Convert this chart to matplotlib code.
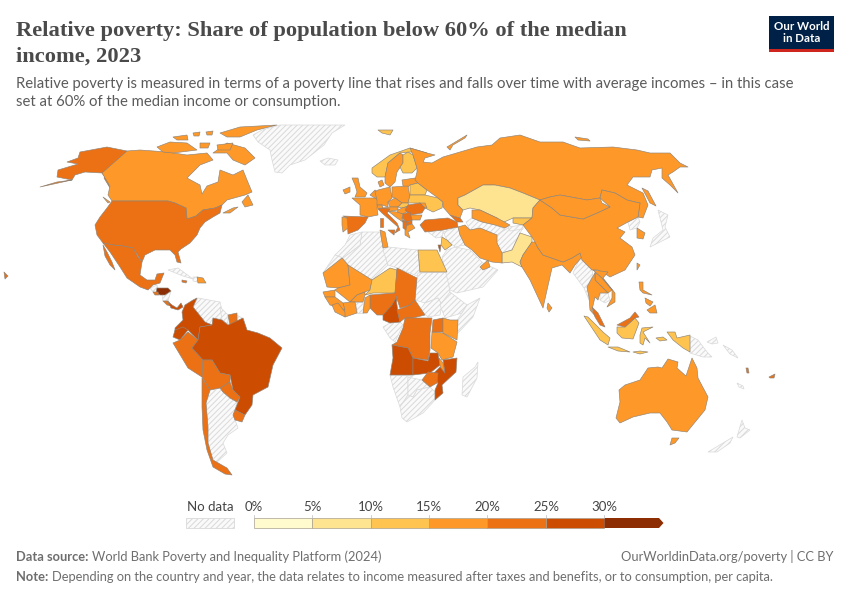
import matplotlib
matplotlib.use("Agg")
import matplotlib.pyplot as plt
from matplotlib.patches import Polygon, Rectangle
from matplotlib.colors import BoundaryNorm, ListedColormap
import numpy as np

plt.rcParams['font.family'] = ['Lato', 'DejaVu Sans']
plt.rcParams['hatch.linewidth'] = 0.7

TITLE = ["Relative poverty: Share of population below 60% of the median", "income, 2023"]
SUBTITLE = ["Relative poverty is measured in terms of a poverty line that rises and falls over time with average incomes – in this case",
            "set at 60% of the median income or consumption."]
BIN_EDGES = [0, 5, 10, 15, 20, 25, 30, 35]
BIN_LABELS = ["0%", "5%", "10%", "15%", "20%", "25%", "30%"]
BIN_COLORS = ["#fffbcf", "#fee391", "#fec44f", "#fe9929", "#ec7014", "#cc4c02", "#8c2d04"]

# Share of population (%) per territory, read from the colour bins; nan = no data
VALUES = {
 "Alaska":22,"Canada":17,"Baffin":17,"Victoria":17,"Ellesmere":17,"Banks":17,"Somerset":17,"Devon":17,"Axel":17,"Prince":17,"Newfoundland":17,
 "NovaScotia":17,"Vancouver":17,"USA":22,"Hawaii":22,"Mexico":22,"Baja":22,"Honduras":32,"ElSalvador":22,"CostaRica":22,"Panama":27,
 "DominicanRep":17,"Jamaica":22,"Colombia":27,"Suriname":22,"Ecuador":27,"Peru":22,"Brazil":27,"Bolivia":22,"Paraguay":22,
 "Uruguay":22,"Chile":22,"UK":17,"Ireland":17,"Norway":12,"Sweden":17,"Finland":12,"Denmark":17,"Baltics":17,"Benelux":17,"France":17,
 "Germany":17,"Switzerland":17,"Poland":17,"Belarus":12,"Ukraine":12,"Moldova":17,"Czechia":17,"Slovakia":12,"Austria":17,"Hungary":17,"Italy":22,"Sicily":22,"Sardinia":22,
 "Spain":22,"Portugal":17,"Romania":22,"Bulgaria":17,"Serbia":22,"Croatia":17,"WestBalkans":22,"Greece":17,"Albania":22,"Turkey":22,"Caucasus":22,"Russia":17,
 "NovayaZemlya":17,"Svalbard":12,"Severnaya":17,"Sakhalin":17,"Kazakhstan":8,"Uzbekistan":17,"Kyrgyzstan":12,"Pakistan":8,"Iran":17,
 "Israel":25.5,"Jordan":12,"Egypt":12,"Tunisia":17,"Mauritania":17,"Mali":17,"Niger":12,"Chad":22,"Nigeria":22,"Cameroon":27,"CAR":22,
 "BeninTogo":17,"Burkina":17,"CotedIvoire":17,"Senegal":17,"Guinea":17,"Liberia":17,"DRC":22,"Angola":27,"Zambia":27,"Tanzania":17,
 "Uganda":22,"Kenya":17,"Malawi":17,"Mozambique":27,"Zimbabwe":22,"UAE":17,"India":17,"SriLanka":17,"China":17,"Mongolia":17,
 "SouthKorea":17,"Taiwan":17,"Laos":17,"Vietnam":17,"Thailand":17,"MalayPen":22,"Sumatra":12,"Java":12,"Kalimantan":12,"Sabah":22,"Sulawesi":12,
 "Luzon":17,"Mindanao":17,"Visayas":17,"Papua":12,"Timor":12,"Moluccas":12,"Vanuatu":22,"Fiji":22,"Australia":17,"Tasmania":17,
}
NO_DATA = ["Greenland","Iceland","Guatemala","Nicaragua","Cuba","Haiti","Venezuela","Guyana","FrGuiana","Argentina","Algeria","Morocco",
 "WSahara","Libya","Sudan","SouthSudan","Ethiopia","Somalia","Ghana","Gabon","Namibia","Botswana","SouthAfrica","Madagascar","Saudi",
 "Iraq","Syria","Turkmenistan","Afghanistan","Tajikistan","NorthKorea","Japan","Myanmar","Cambodia","PNG","NewBritain","Solomon","NewCaledonia","NZSouth","NZNorth"]

# Territory outlines (map units: x right, y down)
OUTLINES = {
 "Greenland":[(253,135),(262,130),(280,125),(345,125),(332,133),(324,145),(305,160),(290,165),(282,173),(275,172),(272,160),(270,150),(258,142)],
 "Iceland":[(320,161),(328,158),(338,160),(335,165),(325,165)],
 "Alaska":[(127,151),(107,147),(80,152),(78,158),(67,162),(78,164),(58,170),(57,177),(72,180),(40,187),(57,182),(72,180),(75,175),(85,172),(102,173),(107,180),(110,188),(104,178)],
 "Canada":[(127,151),(102,173),(110,186),(108,195),(112,201),(168,201),(175,203),(186,208),(187,219),(196,216),(203,210),(215,208),(222,205),(227,200),(245,195),(252,192),(247,180),(243,170),(233,175),(220,170),(218,182),(207,186),(202,194),(200,185),(187,178),(200,165),(213,160),(207,153),(187,155),(167,152),(140,150)],
 "Baffin":[(213,153),(227,143),(245,148),(255,158),(245,165),(233,160),(227,153)],
 "Victoria":[(157,147),(170,142),(187,143),(197,150),(173,153),(163,152)],
 "Ellesmere":[(220,133),(240,127),(277,125),(257,130),(240,137),(227,137)],
 "Banks":[(173,137),(187,135),(188,140),(177,140)],
 "Somerset":[(200,143),(210,143),(208,148),(200,148)],
 "Devon":[(217,145),(233,143),(230,150),(218,150)],
 "Axel":[(206,132),(213,131),(212,135),(207,135)],
 "Prince":[(193,133),(200,132),(199,136),(194,136)],
 "Newfoundland":[(242,202),(248,195),(253,205),(245,207)],
 "NovaScotia":[(223,213),(233,208),(238,207),(230,213)],
 "Vancouver":[(103,197),(110,202),(108,203)],
 "USA":[(112,201),(168,201),(175,203),(186,208),(187,219),(196,216),(203,210),(215,208),(222,205),(220,213),(213,217),(205,222),(200,228),(197,235),(190,243),(181,249),(178,252),(181,263),(177,262),(175,255),(170,250),(155,250),(145,255),(142,262),(133,248),(123,246),(113,245),(103,243),(97,235),(95,225),(100,217),(107,208)],
 "Hawaii":[(4,272),(8,276),(5,279)],
 "Mexico":[(103,243),(113,245),(123,246),(133,248),(138,257),(142,262),(140,275),(147,280),(155,280),(157,274),(164,273),(160,283),(153,285),(148,290),(140,287),(127,278),(120,267),(110,252)],
 "Baja":[(103,245),(107,252),(112,262),(115,270),(110,265),(105,256)],
 "Guatemala":[(150,288),(157,285),(158,291),(154,293)],
 "ElSalvador":[(153,292),(158,292),(159,295),(155,295)],
 "Honduras":[(157,288),(168,288),(171,291),(165,295),(160,295),(156,293)],
 "Nicaragua":[(162,295),(171,291),(168,301),(163,301)],
 "CostaRica":[(163,301),(168,301),(172,306),(167,305)],
 "Panama":[(168,302),(172,305),(177,308),(181,303),(183,307),(178,310),(171,308)],
 "Cuba":[(168,270),(178,268),(193,279),(183,276)],
 "Jamaica":[(182,280),(187,281),(186,283),(182,282)],
 "Haiti":[(193,277),(198,277),(198,282),(193,281)],
 "DominicanRep":[(197,277),(203,278),(206,283),(198,283)],
 "Colombia":[(185,305),(193,300),(197,298),(193,307),(205,322),(212,325),(200,327),(198,340),(188,330),(175,335),(175,328),(183,320),(182,312)],
 "Venezuela":[(193,307),(198,298),(220,302),(222,310),(228,315),(222,320),(213,318),(208,327),(205,322)],
 "Guyana":[(220,307),(228,315),(228,324),(222,320)],
 "Suriname":[(228,315),(237,313),(237,322),(230,325)],
 "FrGuiana":[(237,315),(242,318),(238,323)],
 "Ecuador":[(175,330),(183,327),(188,330),(180,340),(173,337)],
 "Peru":[(188,332),(198,340),(192,348),(203,360),(202,377),(188,368),(173,343),(180,340)],
 "Brazil":[(198,340),(200,327),(212,325),(213,318),(222,320),(228,325),(243,318),(247,330),(258,333),(270,338),(282,348),(273,365),(268,387),(253,395),(252,405),(245,415),(235,410),(240,397),(233,390),(230,375),(220,373),(212,360),(203,360),(192,348)],
 "Bolivia":[(203,360),(212,360),(220,373),(230,375),(230,382),(220,388),(210,390),(202,377)],
 "Paraguay":[(220,388),(230,382),(233,390),(240,397),(237,402),(230,398),(223,392)],
 "Uruguay":[(235,410),(245,415),(242,422),(235,420),(233,415)],
 "Chile":[(202,378),(210,390),(206,403),(208,427),(208,443),(213,460),(227,468),(232,475),(225,474),(213,467),(207,450),(203,430),(202,407)],
 "Argentina":[(210,390),(220,388),(223,392),(230,398),(237,402),(238,398),(235,410),(233,415),(235,420),(238,428),(228,435),(223,443),(227,453),(216,463),(213,460),(208,443),(208,427),(206,403)],
 "UK":[(352,178),(358,178),(360,187),(367,193),(365,197),(355,197),(357,192),(355,185)],
 "Ireland":[(343,190),(350,187),(350,192),(345,194)],
 "Norway":[(372,168),(390,155),(410,148),(427,153),(410,152),(400,153),(388,163),(385,177),(377,177),(372,173)],
 "Sweden":[(385,177),(388,163),(400,153),(403,155),(403,163),(397,172),(395,182),(390,187),(385,183)],
 "Finland":[(403,155),(408,152),(413,155),(417,168),(412,173),(403,173),(400,167),(403,163)],
 "Denmark":[(378,182),(382,180),(384,185),(380,187)],
 "Baltics":[(402,180),(415,178),(418,183),(410,185),(408,187),(403,186)],
 "Benelux":[(370,195),(375,190),(378,192),(377,200),(375,198)],
 "France":[(352,198),(362,198),(375,198),(378,200),(377,208),(378,215),(368,217),(360,215),(360,205)],
 "Germany":[(375,192),(378,190),(390,187),(392,198),(388,202),(388,207),(382,205),(377,205),(377,200)],
 "Switzerland":[(377,205),(382,205),(383,208),(378,209)],
 "Poland":[(392,187),(408,186),(410,198),(408,203),(402,203),(395,198),(392,197)],
 "Belarus":[(410,185),(418,183),(427,190),(425,195),(410,195)],
 "Ukraine":[(410,195),(425,195),(438,198),(443,202),(442,208),(433,212),(425,208),(420,203),(408,203)],
 "Moldova":[(420,203),(425,203),(427,208),(424,208)],
 "Czechia":[(388,202),(395,198),(402,203),(398,207),(390,207)],
 "Slovakia":[(398,207),(402,203),(408,203),(409,206),(402,208)],
 "Austria":[(383,208),(390,207),(398,207),(398,210),(385,212),(382,211)],
 "Hungary":[(398,210),(402,208),(409,206),(410,210),(403,214),(397,213)],
 "Italy":[(378,209),(383,208),(390,209),(387,213),(397,223),(400,230),(395,233),(398,227),(390,220),(382,213)],
 "Sicily":[(388,230),(395,230),(394,235)],
 "Sardinia":[(380,218),(383,218),(383,227),(380,227)],
 "Spain":[(343,216),(368,217),(365,223),(358,230),(348,234),(347,218)],
 "Portugal":[(342,217),(347,218),(348,228),(343,232),(342,225)],
 "Romania":[(408,205),(420,203),(425,208),(422,213),(410,215),(405,210)],
 "Bulgaria":[(410,215),(422,215),(420,220),(412,220)],
 "Serbia":[(403,214),(410,212),(412,220),(407,222),(402,218)],
 "Croatia":[(388,211),(397,212),(403,214),(402,218),(403,222),(397,218)],
 "WestBalkans":[(403,220),(408,222),(412,220),(412,224),(405,226),(403,222)],
 "Albania":[(403,222),(407,222),(406,230),(403,228)],
 "Greece":[(405,226),(412,224),(415,228),(408,232),(410,238),(405,235)],
 "Turkey":[(420,225),(425,220),(448,218),(457,222),(458,227),(443,230),(425,232)],
 "Caucasus":[(450,215),(460,218),(463,222),(457,222)],
 "Russia":[(410,148),(427,153),(435,155),(425,158),(423,162),(432,163),(443,157),(460,152),(477,147),(492,145),(500,138),(520,135),(540,142),(563,142),(580,148),(613,147),(637,150),(650,153),(670,153),(680,163),(688,167),(680,167),(673,172),(668,175),(678,193),(670,185),(662,178),(662,168),(652,170),(650,177),(633,177),(627,185),(643,193),(648,205),(643,218),(638,217),(640,203),(635,202),(627,200),(615,193),(602,190),(600,198),(587,200),(560,195),(550,197),(540,200),(523,193),(510,188),(495,185),(483,185),(465,195),(458,198),(458,205),(463,210),(460,218),(450,215),(443,207),(443,202),(438,198),(427,190),(418,183),(415,180),(417,172),(417,168),(413,155)],
 "NovayaZemlya":[(447,147),(467,135),(465,138),(453,145),(450,150)],
 "Svalbard":[(378,130),(393,130),(390,135),(382,133)],
 "Severnaya":[(575,137),(588,139),(590,141),(578,140)],
 "Sakhalin":[(642,188),(648,191),(656,206),(650,203)],
 "Kazakhstan":[(458,198),(465,195),(483,185),(495,185),(510,188),(523,193),(540,200),(533,208),(532,218),(513,218),(502,223),(497,218),(480,210),(470,208),(463,210),(458,205)],
 "Uzbekistan":[(480,210),(497,218),(510,225),(505,228),(495,225),(482,222),(472,218),(472,210)],
 "Kyrgyzstan":[(513,218),(532,218),(523,225),(513,223)],
 "Tajikistan":[(508,227),(523,225),(523,229),(510,231)],
 "Turkmenistan":[(466,222),(472,218),(482,222),(495,225),(505,229),(497,235),(480,228),(470,230)],
 "Afghanistan":[(497,235),(508,228),(523,228),(520,233),(512,250),(502,253),(497,243)],
 "Pakistan":[(502,253),(512,250),(520,233),(532,237),(532,242),(523,255),(520,262),(522,267),(512,262),(502,263)],
 "Iran":[(458,227),(465,225),(470,230),(480,228),(497,235),(497,243),(502,253),(502,263),(492,262),(480,258),(472,250),(465,245),(460,235)],
 "Iraq":[(443,232),(458,227),(460,235),(465,245),(455,247),(447,240)],
 "Syria":[(428,232),(443,230),(443,232),(442,237),(436,238)],
 "Israel":[(438,245),(441,245),(440,252)],
 "Jordan":[(442,237),(447,240),(452,245),(445,250),(441,245)],
 "Egypt":[(418,250),(437,250),(447,272),(420,272)],
 "Libya":[(383,250),(388,247),(418,250),(420,277),(397,268),(388,265)],
 "Tunisia":[(380,230),(385,232),(388,247),(383,248)],
 "Algeria":[(343,258),(360,245),(362,232),(380,232),(383,248),(388,265),(372,280),(348,265)],
 "Morocco":[(335,255),(345,245),(350,235),(362,232),(360,245),(343,258)],
 "WSahara":[(323,273),(335,255),(343,258),(342,262),(328,270)],
 "Mauritania":[(323,273),(342,258),(348,265),(350,285),(338,288),(327,287)],
 "Mali":[(348,265),(372,280),(370,290),(357,295),(350,302),(335,290),(338,288),(350,285)],
 "Niger":[(372,280),(390,268),(397,270),(395,293),(373,293),(365,295),(370,290)],
 "Chad":[(397,268),(417,278),(415,300),(410,305),(400,308),(395,293)],
 "Sudan":[(418,273),(447,272),(450,293),(442,305),(438,298),(425,303),(415,300),(417,278)],
 "SouthSudan":[(425,303),(438,298),(442,305),(440,315),(428,317),(420,310)],
 "Ethiopia":[(440,305),(450,292),(467,305),(462,313),(445,318)],
 "Somalia":[(467,305),(480,298),(473,317),(458,333),(457,320),(462,313)],
 "Saudi":[(442,257),(447,250),(455,247),(470,250),(483,263),(498,270),(483,287),(457,293),(450,290)],
 "UAE":[(480,267),(488,260),(490,267),(483,270)],
 "Nigeria":[(370,295),(395,293),(397,300),(392,305),(385,315),(377,315),(370,308)],
 "Cameroon":[(383,315),(392,305),(396,298),(398,312),(400,322),(390,323),(383,320)],
 "CAR":[(397,310),(410,305),(415,300),(425,315),(413,318),(405,318),(400,322)],
 "BeninTogo":[(365,298),(370,295),(370,308),(367,313),(363,313)],
 "Ghana":[(355,302),(363,302),(363,313),(357,313)],
 "Burkina":[(350,302),(357,295),(365,292),(365,295),(363,302),(355,302)],
 "CotedIvoire":[(343,303),(350,302),(355,302),(357,313),(345,317)],
 "Senegal":[(323,292),(335,290),(335,297),(325,297)],
 "Guinea":[(325,297),(335,297),(343,303),(345,310),(337,307),(330,305)],
 "Liberia":[(332,305),(338,303),(345,312),(345,317),(335,312)],
 "Gabon":[(383,327),(390,323),(400,322),(403,325),(395,342),(390,338)],
 "DRC":[(405,318),(413,318),(432,318),(430,333),(430,350),(428,360),(413,358),(408,348),(392,345),(397,342),(403,328)],
 "Angola":[(392,345),(408,348),(413,358),(413,375),(390,375),(393,358)],
 "Zambia":[(413,358),(428,361),(430,353),(438,353),(440,365),(430,373),(413,375)],
 "Tanzania":[(432,332),(443,333),(457,342),(453,357),(442,360),(438,353),(431,348)],
 "Uganda":[(433,320),(443,318),(443,332),(432,332)],
 "Kenya":[(443,318),(450,320),(458,320),(457,340),(443,333)],
 "Mozambique":[(443,360),(457,358),(456,372),(442,385),(443,393),(435,400),(435,390),(438,383),(432,375),(440,367),(445,373)],
 "Malawi":[(439,358),(443,363),(445,373),(441,372)],
 "Zimbabwe":[(422,380),(428,372),(438,373),(437,383),(430,387)],
 "Botswana":[(408,377),(422,380),(430,387),(417,390),(413,397),(408,395)],
 "Namibia":[(390,375),(413,376),(408,378),(408,395),(400,407),(393,387)],
 "SouthAfrica":[(400,407),(408,395),(413,397),(417,390),(430,387),(435,392),(435,400),(423,413),(407,422),(402,418)],
 "Madagascar":[(478,362),(477,378),(467,397),(462,395),(463,377),(475,367)],
 "India":[(522,267),(520,262),(523,255),(532,242),(535,242),(538,248),(543,255),(563,262),(572,258),(580,253),(582,257),(575,265),(570,273),(562,265),(552,268),(547,290),(543,308),(530,280)],
 "SriLanka":[(548,303),(552,308),(549,312),(547,308)],
 "China":[(540,200),(552,208),(560,215),(583,219),(597,213),(610,207),(600,198),(602,190),(615,193),(627,200),(635,202),(640,203),(638,217),(628,222),(617,228),(625,232),(620,238),(632,247),(635,255),(625,270),(610,277),(607,275),(598,270),(592,270),(582,260),(580,253),(572,258),(563,262),(543,255),(538,248),(535,242),(532,237),(523,225),(532,218),(533,208)],
 "Mongolia":[(540,200),(550,197),(560,195),(587,200),(600,198),(602,203),(610,207),(597,213),(583,219),(560,215),(552,208)],
 "SouthKorea":[(637,228),(645,233),(643,239),(637,238)],
 "NorthKorea":[(628,222),(638,217),(640,222),(637,228),(630,230)],
 "Japan":[(658,210),(668,215),(665,227),(670,237),(650,247),(653,238),(663,230)],
 "Taiwan":[(637,263),(640,265),(637,270)],
 "Myanmar":[(580,258),(592,270),(593,275),(587,287),(589,300),(584,288),(573,273)],
 "Laos":[(595,272),(602,278),(612,290),(608,293),(600,285),(595,280)],
 "Vietnam":[(593,270),(608,272),(603,278),(615,293),(615,302),(607,307),(612,298),(612,290),(602,278)],
 "Thailand":[(587,287),(592,278),(595,273),(595,280),(600,285),(608,293),(600,293),(598,300),(595,297),(592,310),(597,318),(590,310),(589,297)],
 "Cambodia":[(600,293),(608,293),(610,300),(605,303),(600,300)],
 "MalayPen":[(592,307),(598,313),(605,327),(600,325),(595,317)],
 "Sumatra":[(584,316),(588,317),(603,332),(610,338),(608,345),(600,340),(590,325)],
 "Java":[(608,347),(618,347),(630,352),(618,351)],
 "Timor":[(633,352),(640,351),(648,352),(640,354)],
 "Moluccas":[(656,338),(663,337),(667,340),(660,341)],
 "Kalimantan":[(617,327),(625,327),(635,318),(639,323),(633,339),(622,338),(617,333)],
 "Sabah":[(617,325),(630,318),(635,312),(639,317),(635,318),(625,327)],
 "Sulawesi":[(642,328),(653,327),(643,332),(650,343),(645,338),(643,345),(640,343),(640,335)],
 "Luzon":[(639,282),(643,282),(643,290),(652,295),(643,293),(640,290)],
 "Visayas":[(645,298),(653,302),(650,306),(646,303)],
 "Mindanao":[(647,310),(655,305),(657,313),(650,313)],
 "Papua":[(667,332),(675,332),(677,338),(690,335),(690,352),(683,348),(673,340)],
 "PNG":[(690,336),(698,340),(707,352),(712,357),(703,357),(690,353)],
 "NewBritain":[(707,342),(716,337),(718,343),(712,344)],
 "Solomon":[(723,345),(732,350),(738,358),(730,354)],
 "NewCaledonia":[(737,383),(743,386),(744,389),(739,387)],
 "Vanuatu":[(746,368),(748,368),(749,373),(747,373)],
 "Fiji":[(769,377),(775,374),(774,378),(770,378)],
 "Australia":[(616,418),(620,402),(619,390),(625,385),(640,380),(648,368),(658,367),(662,368),(668,359),(678,362),(677,368),(686,376),(692,358),(697,368),(698,378),(708,397),(705,410),(687,432),(672,430),(667,422),(660,413),(650,413),(633,417),(620,423)],
 "Tasmania":[(670,445),(672,438),(679,438),(675,443)],
 "NZSouth":[(708,452),(733,437),(730,443),(717,452)],
 "NZNorth":[(737,437),(742,420),(745,428),(750,430),(740,438)],
}

NO_DATA_FILL, HATCH_GREY = "#fafafa", "#d9d9d9"
FOOT_GREY = "#6e6e6e"

fig = plt.figure(figsize=(8.5, 6), dpi=100)
ax = fig.add_axes([0, 0, 1, 1])
ax.set_xlim(0, 850); ax.set_ylim(600, 0); ax.axis("off")

cmap = ListedColormap(BIN_COLORS)
norm = BoundaryNorm(BIN_EDGES, cmap.N)

for name in NO_DATA:
    ax.add_patch(Polygon(OUTLINES[name], closed=True, facecolor=NO_DATA_FILL, edgecolor=HATCH_GREY, hatch="//////", lw=0.5, zorder=1))
for name, v in VALUES.items():
    ax.add_patch(Polygon(OUTLINES[name], closed=True, facecolor=cmap(norm(v)), edgecolor="#8f8478", lw=0.45, zorder=2, joinstyle="round"))

# header
TITLE_FONT = dict(family="Liberation Serif", fontweight="bold", fontsize=16.2, color="#4a4a4a")
ax.text(16, 36, TITLE[0], va="baseline", **TITLE_FONT)
ax.text(16, 62, TITLE[1], va="baseline", **TITLE_FONT)
ax.text(16, 88, SUBTITLE[0], va="baseline", fontsize=10.73, color="#5b5b5b")
ax.text(16, 106, SUBTITLE[1], va="baseline", fontsize=10.73, color="#5b5b5b")

# logo
ax.add_patch(Rectangle((769, 16), 65, 36, facecolor="#002147", edgecolor="none"))
ax.add_patch(Rectangle((769, 49), 65, 3, facecolor="#ce261e", edgecolor="none"))
ax.text(801.5, 27, "Our World", ha="center", va="center", fontsize=8.3, color="white", fontweight="bold")
ax.text(801.5, 39, "in Data", ha="center", va="center", fontsize=8.3, color="white", fontweight="bold")

# legend: one bar cell per bin on a legend scale
LEG_X0, LEG_PX = 253.7, 11.69
LEG_Y0, LEG_Y1 = 518, 528
lx = lambda v: LEG_X0 + LEG_PX * v
ax.add_patch(Rectangle((186, LEG_Y0), 48, LEG_Y1 - LEG_Y0, facecolor=NO_DATA_FILL, edgecolor=HATCH_GREY, hatch="//////", lw=0.6))
ax.text(210, 507, "No data", ha="center", va="center", fontsize=9.5, color="#444444")
for i in range(6):
    ax.add_patch(Rectangle((lx(BIN_EDGES[i]), LEG_Y0), lx(BIN_EDGES[i + 1]) - lx(BIN_EDGES[i]), LEG_Y1 - LEG_Y0,
                           facecolor=BIN_COLORS[i], edgecolor="#a8a090", lw=0.5))
ax.add_patch(Polygon([(lx(30), LEG_Y0), (659, LEG_Y0), (663.5, (LEG_Y0 + LEG_Y1) / 2), (659, LEG_Y1), (lx(30), LEG_Y1)],
                     closed=True, facecolor=BIN_COLORS[6], edgecolor="none"))
for v, lab in zip(BIN_EDGES, BIN_LABELS):
    ax.plot([lx(v), lx(v)], [515, LEG_Y0], color="#bbbbbb", lw=0.5)
    ax.text(lx(v), 507, lab, ha="center", va="center", fontsize=9.5, color="#444444")

# footer with bold lead-ins
fig.canvas.draw()
rend = fig.canvas.get_renderer()
def lead(y, bold, rest):
    t = ax.text(16, y, bold, va="baseline", fontsize=9.3, fontweight="bold", color=FOOT_GREY)
    w = t.get_window_extent(rend).width
    ax.text(16 + w + 3.5, y, rest, va="baseline", fontsize=9.3, color=FOOT_GREY)
lead(561, "Data source:", "World Bank Poverty and Inequality Platform (2024)")
lead(581, "Note:", "Depending on the country and year, the data relates to income measured after taxes and benefits, or to consumption, per capita.")
ax.text(834, 561, "OurWorldinData.org/poverty | CC BY", ha="right", va="baseline", fontsize=9.3, color=FOOT_GREY)

fig.savefig("out.png", dpi=100)
